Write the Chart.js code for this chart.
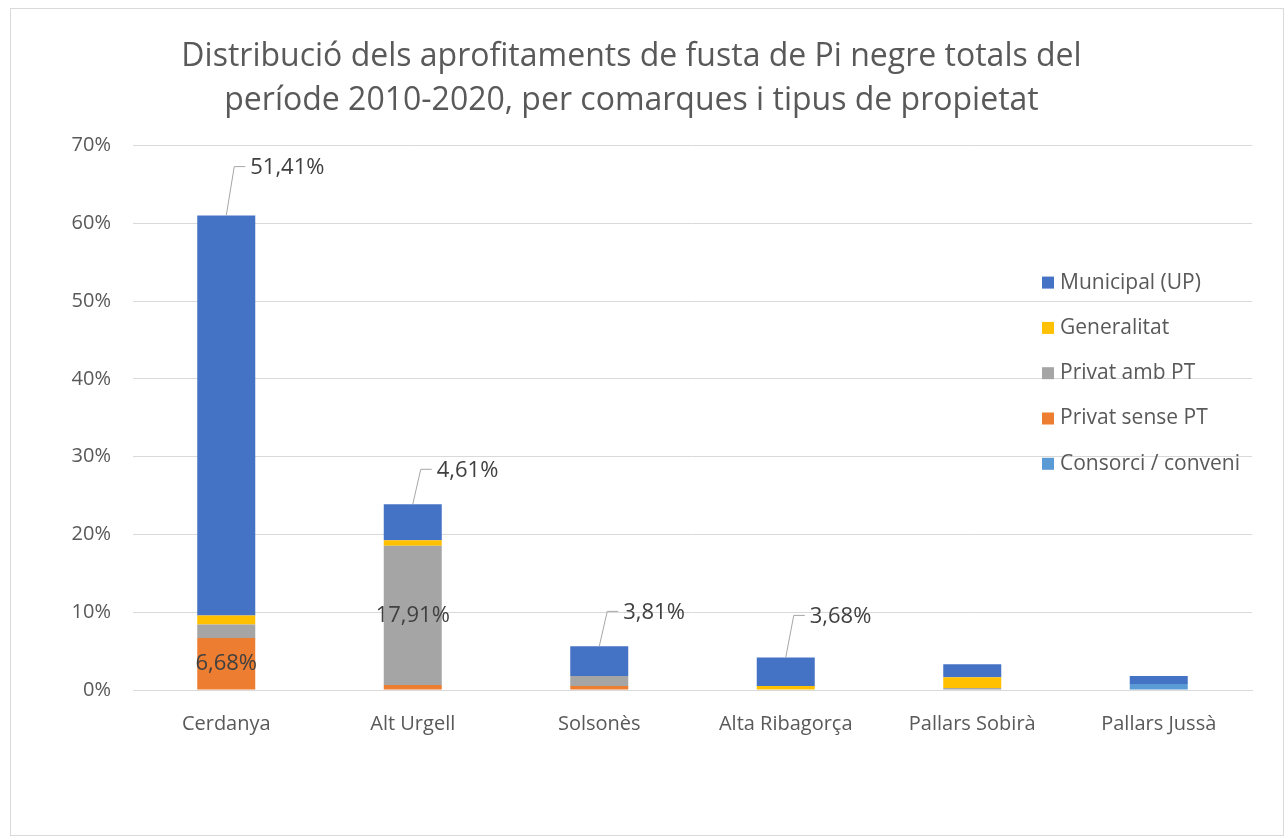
<!DOCTYPE html>
<html>
<head>
<meta charset="utf-8">
<script src="https://cdn.jsdelivr.net/npm/chart.js@4/dist/chart.umd.min.js"></script>
<style>
  body { margin: 0; background: #fff; }
  #marc {
    position: absolute; left: 10px; top: 8px;
    width: 1272px; height: 826px;
    border: 1px solid #d9d9d9; background: #fff;
  }
</style>
</head>
<body>
<div id="marc"><canvas id="fusta" width="1272" height="826"></canvas></div>
<script>
const comarques = ["Cerdanya", "Alt Urgell", "Solsonès", "Alta Ribagorça", "Pallars Sobirà", "Pallars Jussà"];
// valors en % del total
const consorci = [0, 0, 0, 0, 0, 0.77];
const privat_sense_pt = [6.68, 0.64, 0.51, 0, 0, 0];
const privat_amb_pt = [1.75, 17.91, 1.29, 0, 0.26, 0];
const generalitat = [1.16, 0.72, 0, 0.51, 1.37, 0];
const municipal = [51.41, 4.61, 3.81, 3.68, 1.67, 1.03];
const ticks_y = [0, 10, 20, 30, 40, 50, 60, 70];

// etiquetes que es mostren (a la imatge no surten totes)
const etiquetes_fora = [true, true, true, true, false, false]; // Municipal, amb línia
const etiquetes_dins = { "Privat sense PT": [0], "Privat amb PT": [1] };
// alçada de la línia guia de cada etiqueta (px)
const alcada_guia = [49, 35, 35, 42, 0, 0];

const gris_text = "#595959";
const font_base = "'Open Sans', 'Noto Sans', sans-serif";

function format_pct(v) {
  return v.toFixed(2).replace(".", ",") + "%";
}

const plugin_etiquetes = {
  id: "etiquetes",
  afterDatasetsDraw: (chart) => {
    const ctx = chart.ctx;
    ctx.save();
    ctx.font = "22px " + font_base;
    ctx.fillStyle = "#404040";
    chart.data.datasets.forEach((ds, di) => {
      const meta = chart.getDatasetMeta(di);
      meta.data.forEach((bar, i) => {
        if (ds.label == "Municipal (UP)" && etiquetes_fora[i]) {
          const x = bar.x;
          const y = bar.y;
          const ly = y - alcada_guia[i];
          ctx.strokeStyle = "#a6a6a6";
          ctx.lineWidth = 1;
          ctx.beginPath();
          ctx.moveTo(x, y);
          ctx.lineTo(x + 8, ly);
          ctx.lineTo(x + 19, ly);
          ctx.stroke();
          ctx.textAlign = "left";
          ctx.textBaseline = "middle";
          ctx.fillText(format_pct(ds.data[i]), x + 24, ly + 1);
        } else if (etiquetes_dins[ds.label] && etiquetes_dins[ds.label].includes(i)) {
          ctx.textAlign = "center";
          ctx.textBaseline = "middle";
          ctx.fillText(format_pct(ds.data[i]), bar.x, (bar.y + bar.base) / 2);
        }
      });
    });
    ctx.restore();
  },
};

const plugin_llegenda = {
  id: "llegenda",
  afterDraw: (chart) => {
    const ctx = chart.ctx;
    const area = chart.chartArea;
    const x0 = area.right - 210;
    let y = area.top + 137;
    ctx.save();
    ctx.font = "21px " + font_base;
    ctx.textAlign = "left";
    ctx.textBaseline = "middle";
    const dss = chart.data.datasets.slice().reverse();
    dss.forEach((ds) => {
      ctx.fillStyle = ds.backgroundColor;
      ctx.fillRect(x0, y - 6, 12, 12);
      ctx.fillStyle = gris_text;
      ctx.fillText(ds.label, x0 + 18, y);
      y += 45.3;
    });
    ctx.restore();
  },
};

const ctx = document.getElementById("fusta").getContext("2d");
new Chart(ctx, {
  type: "bar",
  data: {
    labels: comarques,
    datasets: [
      { label: "Consorci / conveni", backgroundColor: "#5b9bd5", data: consorci },
      { label: "Privat sense PT", backgroundColor: "#ed7d31", data: privat_sense_pt },
      { label: "Privat amb PT", backgroundColor: "#a5a5a5", data: privat_amb_pt },
      { label: "Generalitat", backgroundColor: "#ffc000", data: generalitat },
      { label: "Municipal (UP)", backgroundColor: "#4472c4", data: municipal },
    ],
  },
  options: {
    responsive: false,
    animation: false,
    layout: { padding: { left: 0, right: 31, top: 0, bottom: 0 } },
    datasets: { bar: { barPercentage: 0.311, categoryPercentage: 1 } },
    scales: {
      x: {
        stacked: true,
        grid: { display: false },
        border: { color: "#d9d9d9" },
        ticks: { color: gris_text, font: { size: 20, family: font_base }, padding: 14 },
        afterFit: (s) => { s.height = 145; },
      },
      y: {
        stacked: true,
        min: 0,
        max: 70,
        afterBuildTicks: (s) => { s.ticks = ticks_y.map((v) => ({ value: v })); },
        grid: { color: "#d9d9d9", drawTicks: false },
        border: { display: false },
        ticks: {
          color: gris_text,
          font: { size: 20, family: font_base },
          padding: 22,
          callback: (v) => v + "%",
        },
        afterFit: (s) => { s.width = 122; },
      },
    },
    plugins: {
      legend: { display: false },
      tooltip: { enabled: false },
      title: {
        display: true,
        text: [
          "Distribució dels aprofitaments de fusta de Pi negre totals del",
          "període 2010-2020, per comarques i tipus de propietat",
        ],
        color: gris_text,
        font: { size: 32, family: font_base, weight: "normal", lineHeight: 1.4 },
        padding: { top: 25, bottom: 22 },
      },
    },
  },
  plugins: [plugin_etiquetes, plugin_llegenda],
});
</script>
</body>
</html>
